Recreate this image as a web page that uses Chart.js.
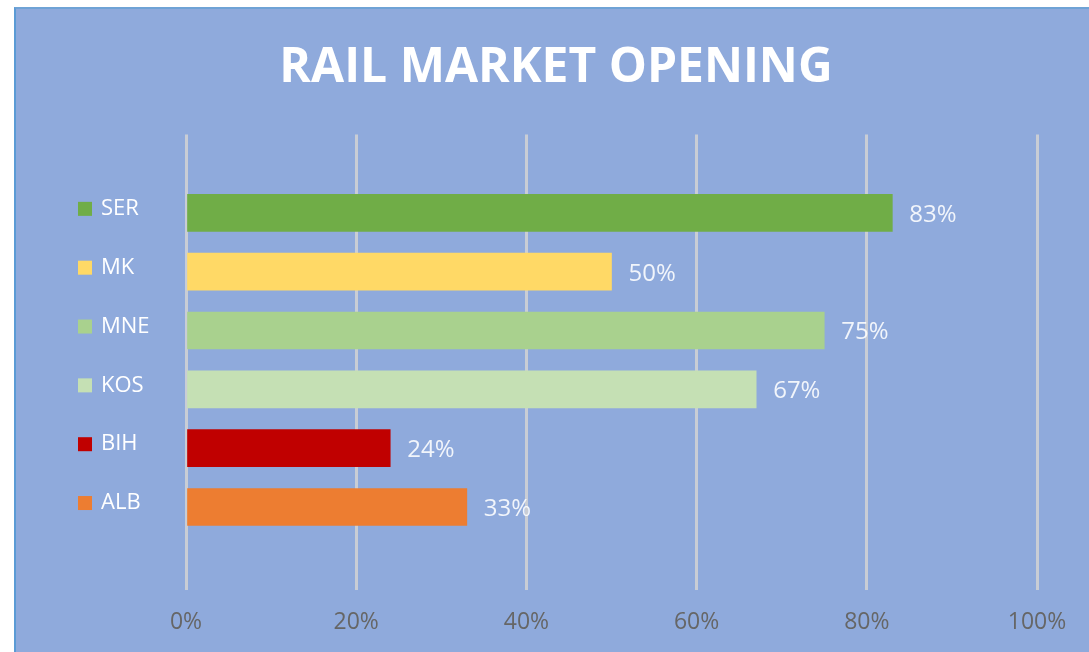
<!DOCTYPE html>
<html>
<head>
<meta charset="utf-8">
<script src="https://cdn.jsdelivr.net/npm/chart.js@4"></script>
<style>
  html, body { margin: 0; padding: 0; background: #ffffff; width: 1089px; height: 652px; overflow: hidden; }
  #frame { position: absolute; left: 14px; top: 7px; width: 1073px; height: 643px;
           border-left: 2px solid #5b9bd5; border-top: 2px solid #6fa3d6; background: #8faadc; }
  canvas { display: block; }
</style>
</head>
<body>
<div id="frame"><canvas id="c" width="1073" height="643"></canvas></div>
<script>
const titleText = 'RAIL MARKET OPENING';
const categories = ['SER', 'MK', 'MNE', 'KOS', 'BIH', 'ALB'];
const values = [83, 50, 75, 67, 24, 33];
const barColors = ['#70ad47', '#ffd966', '#a9d18e', '#c5e0b4', '#c00000', '#ed7d31'];
const xTicks = [0, 20, 40, 60, 80, 100];

const labelFont = '"Open Sans", "DejaVu Sans", sans-serif';

const centerTitle = {
  id: 'centerTitle',
  afterLayout(chart) {
    if (chart.titleBlock) {
      chart.titleBlock.left = 0;
      chart.titleBlock.right = 1080;
    }
  }
};

const legendSquares = {
  id: 'legendSquares',
  afterDraw(chart) {
    const ctx = chart.ctx;
    const y = chart.scales.y;
    ctx.save();
    categories.forEach((c, i) => {
      const py = y.getPixelForValue(i) - 4;
      ctx.fillStyle = barColors[i];
      ctx.fillRect(62, py - 7, 14, 14);
    });
    ctx.restore();
  }
};

const valueLabels = {
  id: 'valueLabels',
  afterDatasetsDraw(chart) {
    const ctx = chart.ctx;
    const meta = chart.getDatasetMeta(0);
    ctx.save();
    ctx.font = '24px ' + labelFont;
    ctx.fillStyle = 'rgba(255,255,255,0.88)';
    ctx.textAlign = 'left';
    ctx.textBaseline = 'middle';
    meta.data.forEach((bar, i) => {
      ctx.fillText(values[i] + '%', bar.x + 17, bar.y + 2);
    });
    ctx.restore();
  }
};

new Chart(document.getElementById('c'), {
  type: 'bar',
  data: {
    datasets: [{
      data: categories.map((c, i) => ({ x: values[i], y: i })),
      backgroundColor: barColors,
      borderWidth: 0,
      barThickness: 37
    }]
  },
  options: {
    indexAxis: 'y',
    responsive: false,
    animation: false,
    layout: { padding: { left: 85, right: 52, top: 0, bottom: 0 } },
    plugins: {
      legend: { display: false },
      tooltip: { enabled: false },
      title: {
        display: true,
        text: titleText,
        color: '#ffffff',
        font: { family: labelFont, size: 48, weight: 'bold', lineHeight: 1.2 },
        padding: { top: 31, bottom: 37 }
      }
    },
    scales: {
      x: {
        type: 'linear',
        position: 'bottom',
        min: 0,
        max: 100,
        afterBuildTicks(scale) { scale.ticks = xTicks.map(v => ({ value: v })); },
        afterFit(scale) { scale.height = 62; },
        grid: { color: '#c9cdd5', lineWidth: 3, drawTicks: false },
        border: { display: false },
        ticks: {
          padding: 19,
          color: '#666666',
          font: { family: labelFont, size: 23 },
          callback: v => v + '%'
        }
      },
      y: {
        type: 'linear',
        position: 'left',
        reverse: true,
        offset: false,
        bounds: 'data',
        min: -1.33,
        max: 6.41,
        afterBuildTicks(scale) { scale.ticks = categories.map((c, i) => ({ value: i })); },
        afterFit(scale) { scale.width = 85; },
        grid: { display: false, drawTicks: false, offset: false },
        border: { display: false },
        ticks: {
          crossAlign: 'far',
          labelOffset: -4,
          padding: 0,
          color: '#ffffff',
          font: { family: labelFont, size: 22 },
          callback: v => categories[v] ?? ''
        }
      }
    }
  },
  plugins: [centerTitle, legendSquares, valueLabels]
});
</script>
</body>
</html>
